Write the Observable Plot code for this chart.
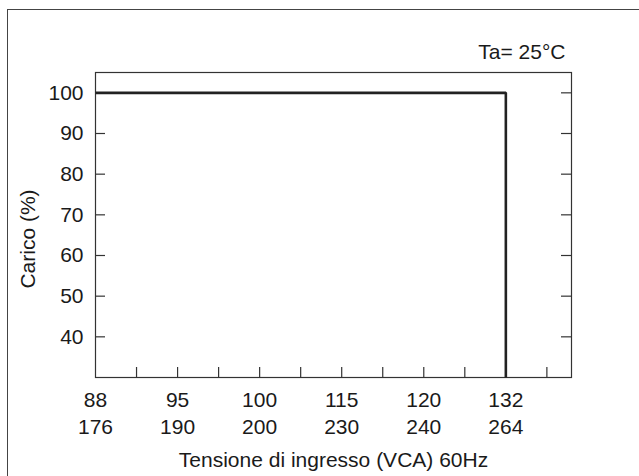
<!DOCTYPE html>
<html>
<head>
<meta charset="utf-8">
<script src="https://cdn.jsdelivr.net/npm/d3@7"></script>
<script src="https://cdn.jsdelivr.net/npm/@observablehq/plot@0.6"></script>
<style>
  html, body { margin: 0; padding: 0; background: #fff; }
  #wrap { position: relative; width: 639px; height: 476px; overflow: hidden; background: #fff; }
  #box { position: absolute; left: 7px; top: 9px; width: 700px; height: 600px; border-left: 1.5px solid #444; border-top: 1.5px solid #444; }
  #chart { position: absolute; left: 0; top: 0; }
</style>
</head>
<body>
<div id="wrap"><div id="box"></div><div id="chart"></div></div>
<script>
// Data
const voltage60 = ["88", "95", "100", "115", "120", "132"];
const voltage50 = ["176", "190", "200", "230", "240", "264"];
const loadTicks = [40, 50, 60, 70, 80, 90, 100];
const curveVoltage = ["88", "132", "132"];
const curveLoad = [100, 100, 30];
const xTitle = "Tensione di ingresso (VCA) 60Hz";
const yTitle = "Carico (%)";
const note = "Ta= 25°C";

// Category position: each labelled voltage sits two tick steps apart
const pos = (v) => voltage60.indexOf(v) * 2;
const curve = curveVoltage.map((v, i) => ({x: pos(v), y: curveLoad[i]}));
const labelTicks = voltage60.map((v, i) => ({x: pos(v), t: v + "\n" + voltage50[i]}));
const minorTicks = d3.range(1, 12);

const W = 639, H = 476;
const mL = 95, mR = 68, mT = 72, mB = 99;
const innerW = W - mL - mR, innerH = H - mT - mB;
const tickLen = 10;

const chart = Plot.plot({
  width: W,
  height: H,
  marginLeft: mL,
  marginRight: mR,
  marginTop: mT,
  marginBottom: mB,
  style: {fontFamily: "'Liberation Sans', Arial, Helvetica, sans-serif", fontSize: "21px", color: "#1a1a1a", background: "transparent"},
  x: {domain: [0, 11.6], axis: null},
  y: {domain: [30, 105], axis: null},
  marks: [
    // inner ticks
    Plot.tickY(loadTicks, {y: d => d, insetRight: innerW - tickLen, stroke: "#333", strokeWidth: 1.2}),
    Plot.tickY(loadTicks, {y: d => d, insetLeft: innerW - tickLen, stroke: "#333", strokeWidth: 1.2}),
    Plot.tickX(minorTicks, {x: d => d, insetTop: innerH - tickLen, stroke: "#333", strokeWidth: 1.2}),
    Plot.frame({stroke: "#333", strokeWidth: 1.2}),
    // y tick labels
    Plot.text(loadTicks, {y: d => d, frameAnchor: "left", text: d => String(d), textAnchor: "end", dx: -12, fill: "#1a1a1a"}),
    // x tick labels (two rows)
    Plot.text(labelTicks, {x: "x", text: "t", frameAnchor: "bottom", lineAnchor: "top", dy: 10, lineHeight: 1.3, fill: "#1a1a1a"}),
    // titles
    Plot.text([xTitle], {frameAnchor: "bottom", text: d => d, lineAnchor: "middle", dy: 83, fill: "#1a1a1a"}),
    Plot.text([yTitle], {frameAnchor: "left", text: d => d, rotate: -90, textAnchor: "middle", lineAnchor: "middle", dx: -67, dy: 14, fill: "#1a1a1a"}),
    Plot.text([note], {frameAnchor: "top-right", text: d => d, textAnchor: "end", lineAnchor: "middle", dx: -6, dy: -20, fill: "#1a1a1a"}),
    // curve
    Plot.line(curve, {x: "x", y: "y", stroke: "#222", strokeWidth: 2.6, strokeLinejoin: "miter", strokeLinecap: "butt"})
  ]
});
document.getElementById("chart").appendChild(chart);
</script>
</body>
</html>
